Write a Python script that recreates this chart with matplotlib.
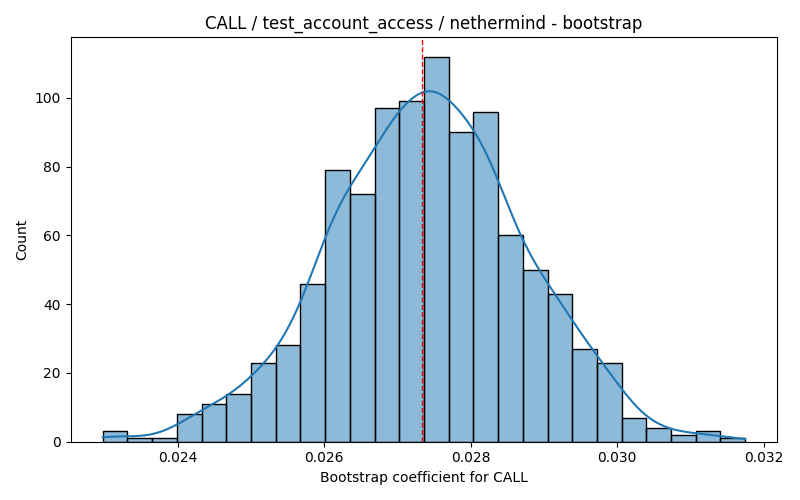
import numpy as np
import matplotlib
matplotlib.use("Agg")
import matplotlib.pyplot as plt
import seaborn as sns

# Histogram (1000 bootstrap samples)
coef_min = 0.022976
coef_max = 0.031748
counts = [3, 1, 1, 8, 11, 14, 23, 28, 46, 79, 72, 97, 99,
          112, 90, 96, 60, 50, 43, 27, 23, 7, 4, 2, 3, 1]
point_estimate = 0.027337

# rebuild approximate samples: bin centres, with the extremes on the data range
edges = np.linspace(coef_min, coef_max, len(counts) + 1)
centers = (edges[:-1] + edges[1:]) / 2
samples = np.repeat(centers, counts)
samples[0] = coef_min
samples[-1] = coef_max

fig, ax = plt.subplots(figsize=(8, 5), dpi=100)
sns.histplot(x=samples, bins=len(counts), kde=True, edgecolor="black", ax=ax)
ax.axvline(point_estimate, color="red", linestyle="--", linewidth=1)
ax.set_title("CALL / test_account_access / nethermind - bootstrap")
ax.set_xlabel("Bootstrap coefficient for CALL")
ax.set_ylabel("Count")
fig.tight_layout()
fig.savefig("out.png")
